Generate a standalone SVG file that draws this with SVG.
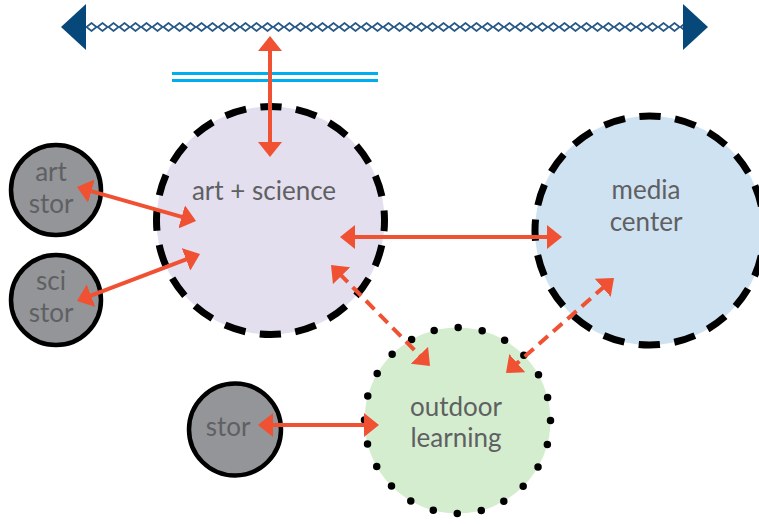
<svg xmlns="http://www.w3.org/2000/svg" width="759" height="524" viewBox="0 0 759 524">
  <style>
    .label { font-family: Lato, "Liberation Sans", sans-serif; font-size: 26px; fill: #5f6062; text-anchor: middle; }
    .big { stroke: #000; stroke-width: 7; }
    .stor circle { fill: #939598; stroke: #000; stroke-width: 4.5; }
    .link { fill: none; stroke: #f05133; stroke-width: 4; marker-start: url(#head); marker-end: url(#head); }
    .dashed { stroke-dasharray: 12 7; }
  </style>
  <defs>
    <marker id="head" viewBox="0 0 15 24" refX="3" refY="12" markerWidth="15" markerHeight="24" markerUnits="userSpaceOnUse" orient="auto-start-reverse">
      <path d="M0,0 L15,12 L0,24 Z" fill="#f05133"/>
    </marker>
    <pattern id="chain" x="86" y="22" width="11" height="10" patternUnits="userSpaceOnUse">
      <path d="M0.5,5 L5.5,1 L10.5,5 L5.5,9 Z" fill="none" stroke="#245786" stroke-width="1.7"/>
    </pattern>
  </defs>

  <!-- timeline bar -->
  <g id="timeline">
    <rect x="86" y="22" width="597" height="10" fill="url(#chain)"/>
    <polygon points="61,27 86,4 86,50" fill="#07487b"/>
    <polygon points="683,4 708,27 683,50" fill="#07487b"/>
  </g>

  <!-- double rule -->
  <g id="rule" stroke="#00aeef" stroke-width="3">
    <line x1="172" y1="73.5" x2="378" y2="73.5"/>
    <line x1="172" y1="80.5" x2="378" y2="80.5"/>
  </g>

  <g id="art-science">
    <circle class="big" cx="270.5" cy="220.5" r="114" fill="#e3dfee" stroke-dasharray="21.5 14.31" stroke-dashoffset="10.75"/>
    <text class="label" x="264" y="200">art + science</text>
  </g>

  <g id="media-center">
    <circle class="big" cx="649.5" cy="230.5" r="114.5" fill="#cfe2f1" stroke-dasharray="21.6 14.37" stroke-dashoffset="10.8"/>
    <text class="label" x="646" y="199">media</text>
    <text class="label" x="646" y="230.5">center</text>
  </g>

  <g id="outdoor-learning">
    <circle cx="457.5" cy="420.5" r="93" fill="#d4edcf" stroke="#000" stroke-width="7.5" stroke-linecap="round" stroke-dasharray="0 24.347"/>
    <text class="label" x="456" y="416">outdoor</text>
    <text class="label" x="456" y="447">learning</text>
  </g>

  <g id="art-stor" class="stor">
    <circle cx="56" cy="190" r="45"/>
    <text class="label" x="51" y="181">art</text>
    <text class="label" x="51" y="213">stor</text>
  </g>

  <g id="sci-stor" class="stor">
    <circle cx="56" cy="300" r="45"/>
    <text class="label" x="51" y="290">sci</text>
    <text class="label" x="51" y="322">stor</text>
  </g>

  <g id="stor" class="stor">
    <circle cx="235" cy="429.5" r="46"/>
    <text class="label" x="228" y="436">stor</text>
  </g>

  <!-- connectors -->
  <g id="connectors">
    <line class="link" x1="270" y1="48" x2="270" y2="145"/>
    <line class="link" x1="88.5" y1="190.3" x2="184.5" y2="217.7"/>
    <line class="link" x1="88.2" y1="296.7" x2="188.8" y2="258.3"/>
    <line class="link" x1="352" y1="237" x2="550" y2="237"/>
    <line class="link dashed" x1="339.4" y1="273.6" x2="421.6" y2="357.4"/>
    <line class="link dashed" x1="605" y1="285.9" x2="515" y2="365.1"/>
    <line class="link" x1="270" y1="425" x2="367" y2="425"/>
  </g>
</svg>
